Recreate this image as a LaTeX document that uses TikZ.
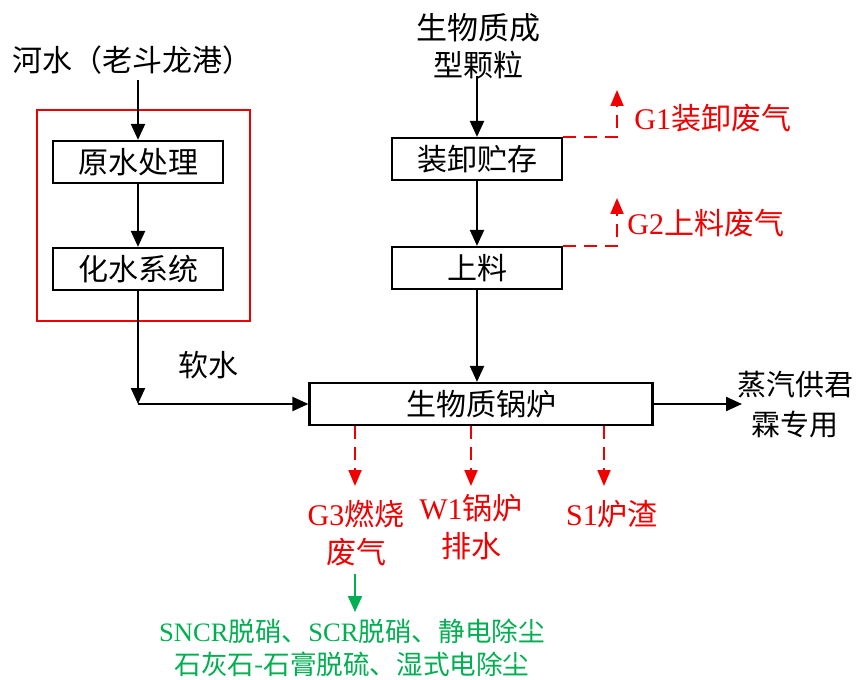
\documentclass[tikz,border=0pt]{standalone}
\usepackage{fontspec}
\setmainfont{Noto Sans CJK SC}
\newfontfamily\lat{Liberation Serif}
\usetikzlibrary{arrows.meta}
\definecolor{myred}{RGB}{240,0,0}
\definecolor{mygreen}{RGB}{0,176,80}
\begin{document}
\begin{tikzpicture}[x=0.5pt,y=-0.5pt,
  txt/.style={inner sep=0pt, font=\fontsize{15}{19}\selectfont, align=center},
  rtxt/.style={txt, text=myred},
  gtxt/.style={inner sep=0pt, font=\fontsize{13.3}{16.5}\selectfont, align=center, text=mygreen},
  box/.style={draw, line width=1.1pt, minimum width=85pt, minimum height=21pt, inner sep=0pt, font=\fontsize{15}{19}\selectfont},
  arr/.style={line width=1.1pt, -{Triangle[length=8pt,width=7pt]}},
  rarr/.style={myred, line width=1pt, dash pattern=on 6.5pt off 4pt, -{Triangle[length=8pt,width=6.5pt]}},
  garr/.style={mygreen, line width=1pt, -{Triangle[length=8pt,width=7pt]}}
]
\useasboundingbox (0,0) rectangle (866,679);

% left column
\node[txt] (riv) at (132,60) {河水（老斗龙港）};
\draw[myred, line width=1pt] (37,110) rectangle (250,321);
\node[box] (yuan) at (138,162) {原水处理};
\node[box] (hua) at (138,269) {化水系统};
\coordinate (rivout) at (138,80);
\coordinate (j) at (138,404);
\node[txt] (ruan) at (208,365) {软水};

% right column
\node[txt, font=\fontsize{15.5}{19}\selectfont] (bio1) at (478,28) {生物质成};
\node[txt] (bio2) at (478,65) {型颗粒};
\coordinate (bioout) at (477,76);
\node[box] (zx) at (477,159) {装卸贮存};
\node[box] (sl) at (477,268) {上料};
\node[box, minimum width=171.5pt] (boiler) at (481,404) {生物质锅炉};
\node[txt, font=\fontsize{14.5}{20}\selectfont] (steam) at (795,405) {蒸汽供君\\霖专用};
\coordinate (steamin) at (742,404);

% emissions top
\coordinate (g1t) at (617,90);
\coordinate (g2t) at (617,198);
\node[rtxt, anchor=west] (g1) at (634,118) {{\lat G1}装卸废气};
\node[rtxt, anchor=west] (g2) at (627,223) {{\lat G2}上料废气};

% emissions bottom
\coordinate (g3a) at (355,486);
\coordinate (w1a) at (471,486);
\coordinate (s1a) at (604,486);
\node[rtxt] (g3) at (356,533) {{\lat G3}燃烧\\废气};
\node[rtxt] (w1) at (471,527) {{\lat W1}锅炉\\排水};
\node[rtxt] (s1) at (612,514) {{\lat S1}炉渣};
\coordinate (gs) at (355,574);
\coordinate (ge) at (355,612);
\node[gtxt] (treat) at (352,648) {{\lat SNCR}脱硝、{\lat SCR}脱硝、静电除尘\\石灰石-石膏脱硫、湿式电除尘};

% connectors
\draw[arr] (rivout) -- (yuan.north);
\draw[arr] (yuan.south) -- (hua.north);
\draw[arr] (hua.south) -- (j);
\draw[arr] (j) -- (boiler.west);
\draw[arr] (bioout) -- (zx.north);
\draw[arr] (zx.south) -- (sl.north);
\draw[arr] (sl.south) -- (sl.south |- boiler.north);
\draw[arr] (boiler.east) -- (steamin);
\draw[rarr] (zx.north east) -| (g1t);
\draw[rarr] (sl.north east) -| (g2t);
\draw[rarr] (boiler.south -| g3a) -- (g3a);
\draw[rarr] (boiler.south -| w1a) -- (w1a);
\draw[rarr] (boiler.south -| s1a) -- (s1a);
\draw[garr] (gs) -- (ge);
\end{tikzpicture}
\end{document}
